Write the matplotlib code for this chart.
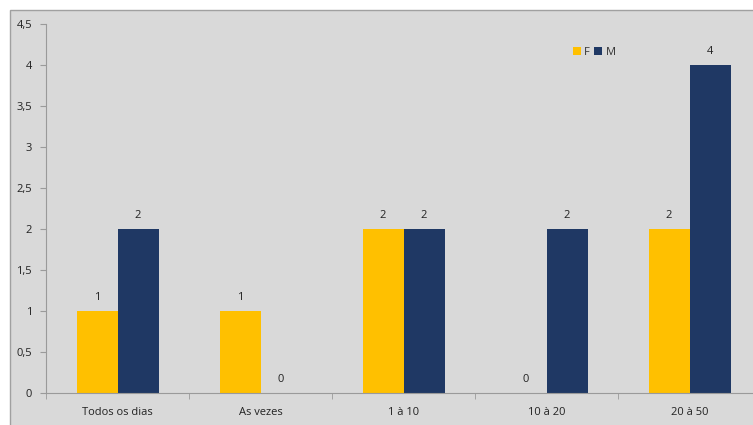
import matplotlib
matplotlib.use("Agg")
from matplotlib import pyplot as plt
from matplotlib.patches import Rectangle
import numpy as np

categories = ["Todos os dias", "As vezes", "1 à 10", "10 à 20", "20 à 50"]
f_values = [1, 1, 2, 0, 2]
m_values = [2, 0, 2, 2, 4]
y_ticks = [0, 0.5, 1, 1.5, 2, 2.5, 3, 3.5, 4, 4.5]
y_labels = ["0", "0,5", "1", "1,5", "2", "2,5", "3", "3,5", "4", "4,5"]

yellow = "#FFC000"
navy = "#1F3864"
bg = "#D9D9D9"
axis_gray = "#9A9A9A"

plt.rcParams["font.family"] = ["Open Sans", "DejaVu Sans"]

W, H = 753, 425
fig = plt.figure(figsize=(W / 100, H / 100), dpi=100)
fig.patch.set_facecolor("white")

# chart area (runs off the right and bottom edges)
fig.patches.append(Rectangle((10 / W, -0.05), 1.0, (H - 10) / H + 0.05,
                             transform=fig.transFigure, facecolor=bg,
                             edgecolor="#A0A0A0", linewidth=1.0, zorder=-5))

# plot area: x=-0.5 at px 46, each category 143 px wide
ax = fig.add_axes([46 / W, (H - 393) / H, 143 * 5 / W, 369 / H])
ax.set_facecolor(bg)
ax.set_zorder(1)

x = np.arange(len(categories))
w = 41 / 143
bf = ax.bar(x - w / 2, f_values, w, color=yellow, label="F", zorder=2)
bm = ax.bar(x + w / 2, m_values, w, color=navy, label="M", zorder=2)

for bars in (bf, bm):
    for b in bars:
        ax.annotate(f"{b.get_height():g}", (b.get_x() + b.get_width() / 2, b.get_height()),
                    xytext=(0, 6), textcoords="offset points", ha="center", va="bottom",
                    fontsize=8, color="#222222")

ax.set_xlim(-0.5, 4.5)
ax.set_ylim(0, 4.5)
ax.set_yticks(y_ticks)
ax.set_yticklabels(y_labels)
ax.set_xticks(x)
ax.set_xticklabels(categories)
ax.set_xticks(np.arange(-0.5, 5, 1), minor=True)
ax.tick_params(axis="x", which="major", length=0, pad=10, labelsize=8, labelcolor="#222222")
ax.tick_params(axis="x", which="minor", length=4, color=axis_gray, direction="out")
ax.tick_params(axis="y", length=4, color=axis_gray, pad=6, labelsize=8, labelcolor="#222222")

for s in ("top", "right"):
    ax.spines[s].set_visible(False)
for s in ("left", "bottom"):
    ax.spines[s].set_color(axis_gray)
    ax.spines[s].set_linewidth(0.8)

ax.legend(loc="upper left", bbox_to_anchor=(563 / W, (H - 37) / H),
          bbox_transform=fig.transFigure, ncol=2, frameon=False, fontsize=8,
          handlelength=0.7, handleheight=0.7, handletextpad=0.3, columnspacing=0.4,
          labelcolor="#333333")

fig.savefig("out.png", dpi=100)
